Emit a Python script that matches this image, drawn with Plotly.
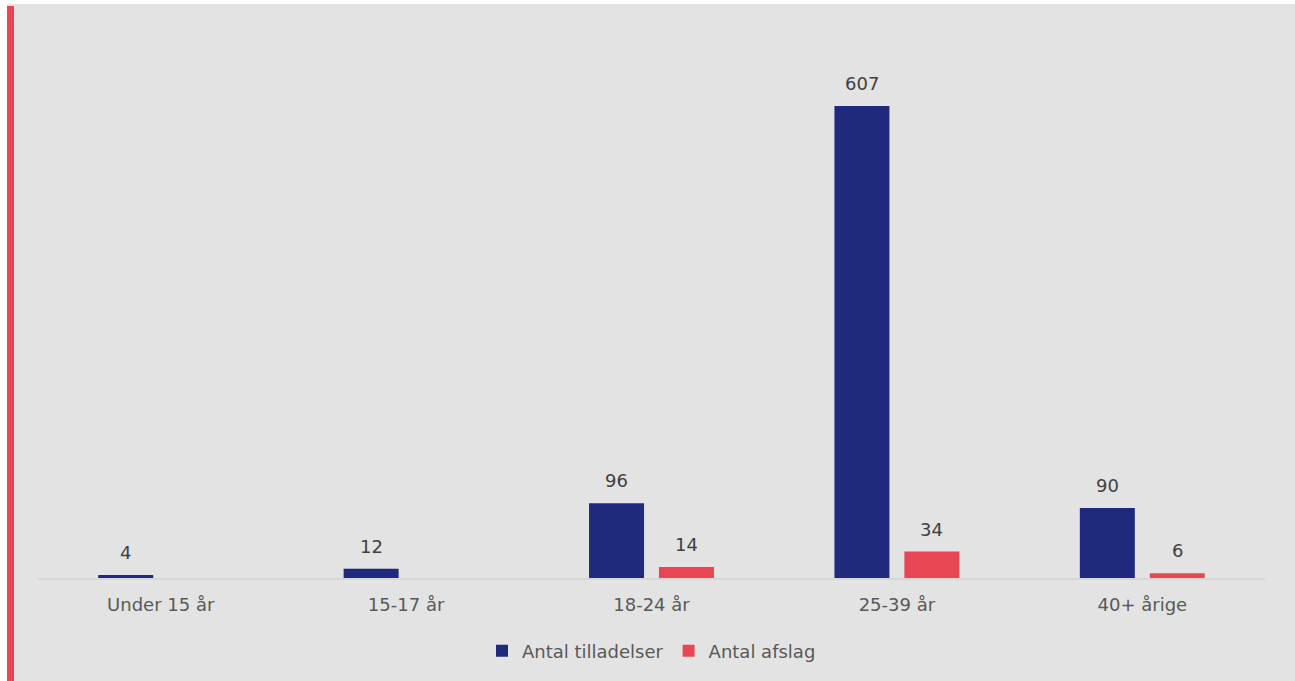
import plotly.graph_objects as go

# Age groups and counts
categories = ["Under 15 år", "15-17 år", "18-24 år", "25-39 år", "40+ årige"]
tilladelser = [4, 12, 96, 607, 90]
afslag = [None, None, 14, 34, 6]

series_names = ["Antal tilladelser", "Antal afslag"]

NAVY = "#1f2a7c"
RED = "#e84655"
BG = "#e3e3e3"
FONT = "DejaVu Sans"

W, H = 1295, 681
ML, MR, MT, MB = 38, 30, 50, 103
PW, PH = W - ML - MR, H - MT - MB


def px_x(p):
    return (p - ML) / PW


def px_y(p):
    return (H - MB - p) / PH


fig = go.Figure()
fig.add_trace(go.Bar(x=categories, y=tilladelser, name=series_names[0],
                     marker=dict(color=NAVY, line=dict(width=0))))
fig.add_trace(go.Bar(x=categories, y=afslag, name=series_names[1],
                     marker=dict(color=RED, line=dict(width=0))))

# value labels above each bar
annotations = []
for vals, shift in ((tilladelser, -35), (afslag, 35)):
    for c, v in zip(categories, vals):
        if v is None:
            continue
        annotations.append(dict(x=c, y=v, xref="x", yref="y", text=str(v),
                                showarrow=False, xshift=shift, yshift=10,
                                yanchor="bottom",
                                font=dict(family=FONT, size=18, color="#404040")))

shapes = [
    # white margin strip along the top and left
    dict(type="rect", xref="paper", yref="paper", x0=px_x(-5), x1=px_x(W + 5),
         y0=px_y(4), y1=px_y(-5), fillcolor="white", line=dict(width=0), layer="below"),
    dict(type="rect", xref="paper", yref="paper", x0=px_x(-5), x1=px_x(7),
         y0=px_y(H + 5), y1=px_y(-5), fillcolor="white", line=dict(width=0), layer="below"),
    # red accent bar on the left edge
    dict(type="rect", xref="paper", yref="paper", x0=px_x(7), x1=px_x(14),
         y0=px_y(H + 5), y1=px_y(6), fillcolor=RED, line=dict(width=0), layer="below"),
]

fig.update_layout(
    width=W, height=H,
    margin=dict(l=ML, r=MR, t=MT, b=MB),
    paper_bgcolor=BG, plot_bgcolor=BG,
    barmode="group", bargap=0.43, bargroupgap=0.214,
    font=dict(family=FONT, size=18, color="#595959"),
    showlegend=True,
    legend=dict(orientation="h", x=0.5, xanchor="center", y=px_y(651), yanchor="middle",
                font=dict(family=FONT, size=18, color="#595959"),
                bgcolor="rgba(0,0,0,0)", itemwidth=30, traceorder="normal"),
    xaxis=dict(showgrid=False, showline=True, linecolor="#d6d6d6", linewidth=2,
               ticks="outside", ticklen=9, tickcolor="rgba(0,0,0,0)",
               tickfont=dict(family=FONT, size=18, color="#595959"), fixedrange=True),
    yaxis=dict(visible=False, range=[0, PH / 0.7776], fixedrange=True),
    annotations=annotations,
    shapes=shapes,
)

fig.write_html("out.html")
